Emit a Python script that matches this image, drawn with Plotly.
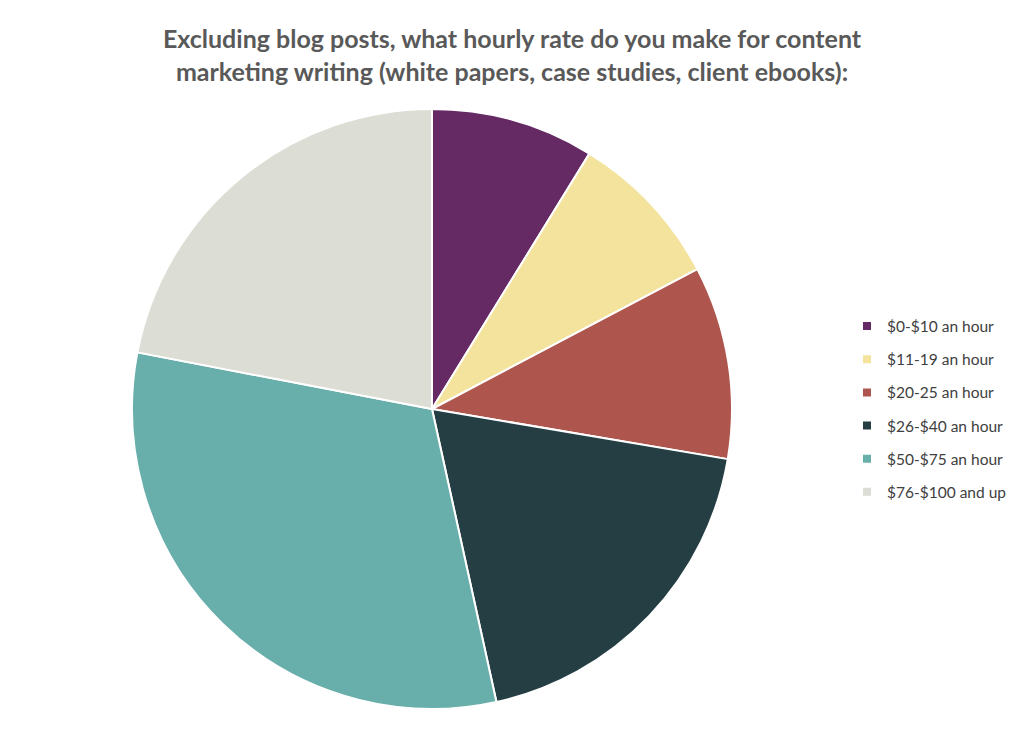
import plotly.graph_objects as go

# hourly rate buckets and share of answers (%)
rates = ["$0-$10 an hour", "$11-19 an hour", "$20-25 an hour",
         "$26-$40 an hour", "$50-$75 an hour", "$76-$100 and up"]
shares = [8.8, 8.5, 10.4, 18.9, 31.5, 22.0]
colors = ["#652a64", "#f3e39c", "#ae564d", "#243e44", "#68aeaa", "#dcddd4"]

title_text = ("Excluding blog posts, what hourly rate do you make for content<br>"
              "marketing writing (white papers, case studies, client ebooks):")

W, H = 1024, 730

fig = go.Figure()

fig.add_trace(go.Pie(
    labels=rates,
    values=shares,
    sort=False,
    direction="clockwise",
    rotation=0,
    textinfo="none",
    marker=dict(colors=colors, line=dict(color="white", width=2)),
    showlegend=False,
    domain=dict(x=[(432 - 300) / W, (432 + 300) / W],
                y=[(H - 709) / H, (H - 109) / H]),
))

# legend entries as empty marker traces so the row spacing can be widened
for i, (r, c) in enumerate(zip(rates, colors)):
    fig.add_trace(go.Scatter(
        x=[None], y=[None], mode="markers", name=r,
        legendgroup=str(i),
        marker=dict(symbol="square", size=8, color=c),
    ))

fig.update_layout(
    width=W, height=H,
    margin=dict(l=0, r=0, t=0, b=0),
    paper_bgcolor="#d6d6d6",
    plot_bgcolor="white",
    xaxis=dict(visible=False),
    yaxis=dict(visible=False),
    title=dict(text=title_text, x=0.5, xanchor="center",
               y=(H - 48) / H, yanchor="top",
               font=dict(family="Lato", size=25, color="#595959",
                         weight="bold")),
    legend=dict(x=847 / W, xanchor="left", y=(H - 409) / H, yanchor="middle",
                tracegroupgap=10, bgcolor="rgba(0,0,0,0)",
                font=dict(family="Lato", size=15.5, color="#404040")),
    shapes=[dict(type="rect", xref="paper", yref="paper", layer="below",
                 x0=3 / W, x1=1021 / W, y0=-0.01, y1=(H - 6) / H,
                 fillcolor="white", line=dict(width=0))],
)

# drop the default page margin so the figure sits at the window corner
fig.write_html("out.html",
               config={"displayModeBar": False},
               post_script="document.body.style.margin='0';")
